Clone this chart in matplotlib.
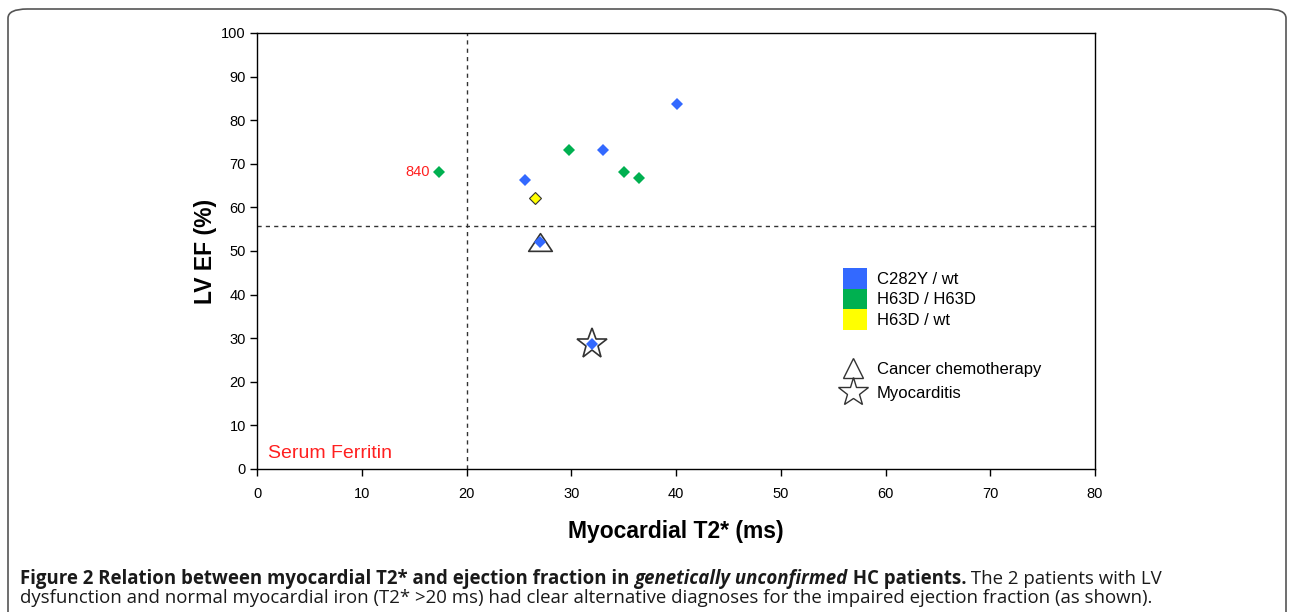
import matplotlib
matplotlib.use("Agg")
import matplotlib.pyplot as plt
from matplotlib import font_manager
from matplotlib.patches import Patch, FancyBboxPatch
from matplotlib.lines import Line2D
from matplotlib.path import Path

# ---------------------------------------------------------
# Data
# ---------------------------------------------------------
groups = ["C282Y / wt", "H63D / H63D", "H63D / wt"]
colors = ["#3369FF", "#00B050", "#FFFF00"]

c282y_t2 = [25.6, 33.0, 40.1, 27.0, 32.0]
c282y_ef = [66.3, 73.2, 83.7, 52.1, 28.7]

h63d_h63d_t2 = [17.4, 29.8, 35.0, 36.5]
h63d_h63d_ef = [68.1, 73.2, 68.1, 66.7]

h63d_wt_t2 = [26.5]
h63d_wt_ef = [62.2]

chemo_t2, chemo_ef = [27.0], [52.1]
myo_t2, myo_ef = [32.0], [28.7]

ferritin_label = "840"
ferritin_t2, ferritin_ef = 17.4, 68.1

t2_cutoff = 20
ef_cutoff = 55.8

x_ticks = list(range(0, 81, 10))
y_ticks = list(range(0, 101, 10))

# ---------------------------------------------------------
# Fonts
# ---------------------------------------------------------
names = {f.name for f in font_manager.fontManager.ttflist}
plot_font = "Liberation Sans" if "Liberation Sans" in names else "DejaVu Sans"
cap_font = "Open Sans" if "Open Sans" in names else "DejaVu Sans"
plt.rcParams["font.family"] = plot_font

fig = plt.figure(figsize=(12.89, 6.12), dpi=100)
ax = fig.add_axes([0.1994, 0.2337, 0.6501, 0.7124])

# squat open triangle, like the original
tri = Path([(0, 0.75), (-1, -0.75), (1, -0.75), (0, 0.75)],
           [Path.MOVETO, Path.LINETO, Path.LINETO, Path.CLOSEPOLY])

# reference lines
ax.axvline(t2_cutoff, color="#333333", linestyle=(0, (3, 3)), linewidth=1)
ax.axhline(ef_cutoff, color="#333333", linestyle=(0, (3, 3)), linewidth=1)

# diagnosis outlines (behind diamonds)
ax.plot(chemo_t2, chemo_ef, linestyle="none", marker=tri, markersize=17,
        markerfacecolor="white", markeredgecolor="#333333", markeredgewidth=1.2, zorder=3)
ax.plot(myo_t2, myo_ef, linestyle="none", marker="*", markersize=23,
        markerfacecolor="white", markeredgecolor="#333333", markeredgewidth=1.2, zorder=3)

# genotype diamonds
ax.plot(c282y_t2, c282y_ef, linestyle="none", marker="D", markersize=6,
        color=colors[0], markeredgewidth=0, zorder=4)
ax.plot(h63d_h63d_t2, h63d_h63d_ef, linestyle="none", marker="D", markersize=6,
        color=colors[1], markeredgewidth=0, zorder=4)
ax.plot(h63d_wt_t2, h63d_wt_ef, linestyle="none", marker="D", markersize=6.5,
        markerfacecolor=colors[2], markeredgecolor="#333333", markeredgewidth=0.8, zorder=4)

ax.annotate(ferritin_label, (ferritin_t2, ferritin_ef), xytext=(-7, 0),
            textcoords="offset points", ha="right", va="center",
            color="#FF2020", fontsize=10.5)
ax.text(0.013, 0.025, "Serum Ferritin", transform=ax.transAxes,
        color="#FF2020", fontsize=14, ha="left", va="baseline")

ax.set_xlim(0, 80)
ax.set_ylim(0, 100)
ax.set_xticks(x_ticks)
ax.set_yticks(y_ticks)
ax.tick_params(direction="out", length=5, width=1, labelsize=10.5,
               top=False, right=False)
ax.tick_params(axis="x", pad=8)
ax.tick_params(axis="y", pad=3)
for s in ax.spines.values():
    s.set_linewidth(1)
ax.set_xlabel("Myocardial T2* (ms)", fontsize=16.5, fontweight="bold", labelpad=14)
ax.set_ylabel("LV EF (%)", fontsize=16.5, fontweight="bold", labelpad=3)

# legends
leg1 = ax.legend([Patch(facecolor=c, edgecolor="none") for c in colors], groups,
                 loc="upper left", bbox_to_anchor=(0.699, 0.461), frameon=False,
                 fontsize=12, handlelength=1.47, handleheight=1.53,
                 labelspacing=0, handletextpad=0.6, borderpad=0, borderaxespad=0)
ax.add_artist(leg1)
diag_handles = [
    Line2D([], [], linestyle="none", marker="^", markersize=14,
           markerfacecolor="white", markeredgecolor="#333333", markeredgewidth=1),
    Line2D([], [], linestyle="none", marker="*", markersize=22,
           markerfacecolor="white", markeredgecolor="#333333", markeredgewidth=1),
]
ax.legend(diag_handles, ["Cancer chemotherapy", "Myocarditis"],
          loc="upper left", bbox_to_anchor=(0.697, 0.246), frameon=False,
          fontsize=12, handlelength=1.47, labelspacing=0.55, handletextpad=0.66,
          borderpad=0, borderaxespad=0)

# caption
cap_kw = dict(fontsize=13.4, color="#1A1A1A", va="baseline", family=cap_font)
t1 = fig.text(20 / 1289, 1 - 584 / 612,
              "Figure 2 Relation between myocardial T2* and ejection fraction in ",
              fontweight="bold", **cap_kw)
t2 = fig.text(0, 0, "genetically unconfirmed", fontweight="bold", style="italic", **cap_kw)
t3 = fig.text(0, 0, " HC patients.", fontweight="bold", **cap_kw)
t4 = fig.text(0, 0, " The 2 patients with LV", **cap_kw)
fig.canvas.draw()
r = fig.canvas.get_renderer()
prev = t1
for t in (t2, t3, t4):
    bb = prev.get_window_extent(r)
    t.set_position((bb.x1 / fig.bbox.width, prev.get_position()[1]))
    fig.canvas.draw()
    prev = t
fig.text(20 / 1289, 1 - 603 / 612,
         "dysfunction and normal myocardial iron (T2* >20 ms) had clear alternative "
         "diagnoses for the impaired ejection fraction (as shown).", **cap_kw)

# rounded frame
frame = FancyBboxPatch((8 / 1289, -0.05), 1278 / 1289, 1.05 - 9 / 612,
                       boxstyle="round,pad=0,rounding_size=0.015",
                       transform=fig.transFigure, facecolor="none",
                       edgecolor="#555555", linewidth=1.2, zorder=-1)
fig.patches.append(frame)

fig.savefig("out.png", dpi=100)
plt.close(fig)
